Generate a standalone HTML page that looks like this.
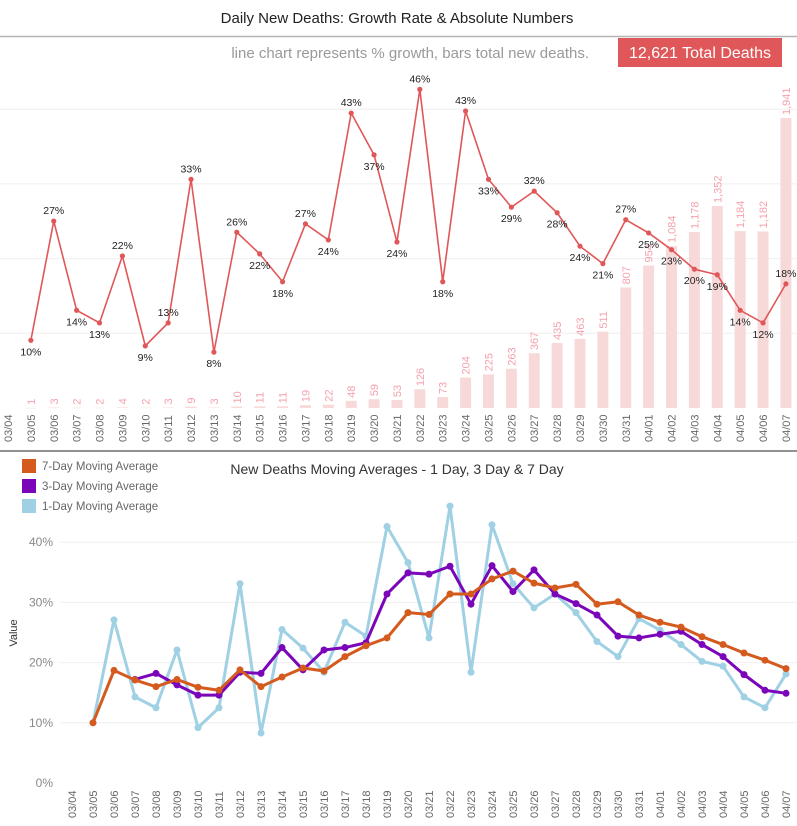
<!DOCTYPE html>
<html><head><meta charset="utf-8">
<style>
body{margin:0;background:#fff;width:797px;height:826px;overflow:hidden;font-family:"Liberation Sans",sans-serif}
svg{position:absolute;left:0;top:0}
.t{font-family:"Liberation Sans Narrow","Liberation Sans",sans-serif}
</style></head>
<body>
<svg id="c" width="797" height="826">
<text class="t" x="397" y="23" text-anchor="middle" font-size="15" fill="#222">Daily New Deaths: Growth Rate &amp; Absolute Numbers</text>
<line x1="0" y1="36.5" x2="797" y2="36.5" stroke="#b5b5b5" stroke-width="1.5"/>
<text class="t" x="589" y="58" text-anchor="end" font-size="15" fill="#999">line chart represents % growth, bars total new deaths.</text>
<rect x="618" y="38" width="164" height="29" fill="#e05759"/>
<text class="t" x="700" y="58" text-anchor="middle" font-size="16" fill="#fff">12,621 Total Deaths</text>
<line x1="0" y1="451" x2="797" y2="451" stroke="#222" stroke-width="1"/>
<text x="397" y="474" text-anchor="middle" font-size="14" fill="#333">New Deaths Moving Averages - 1 Day, 3 Day &amp; 7 Day</text>
<g id="topg"></g><g id="botg"></g>
</svg>
<script>
const dates=["03/04","03/05","03/06","03/07","03/08","03/09","03/10","03/11","03/12","03/13","03/14","03/15","03/16","03/17","03/18","03/19","03/20","03/21","03/22","03/23","03/24","03/25","03/26","03/27","03/28","03/29","03/30","03/31","04/01","04/02","04/03","04/04","04/05","04/06","04/07"];
const newDeaths=[0,1,3,2,2,4,2,3,9,3,10,11,11,19,22,48,59,53,126,73,204,225,263,367,435,463,511,807,954,1084,1178,1352,1184,1182,1941];
const growth=[null,10,27.1,14.3,12.5,22.1,9.2,12.5,33.1,8.3,25.5,22.4,18.4,26.7,24.4,42.6,36.6,24.1,46,18.4,42.9,33.1,29.1,31.4,28.3,23.5,21,27.3,25.4,23,20.2,19.4,14.3,12.5,18.1];
const growthLabels=["","10%","27%","14%","13%","22%","9%","13%","33%","8%","26%","22%","18%","27%","24%","43%","37%","24%","46%","18%","43%","33%","29%","32%","28%","24%","21%","27%","25%","23%","20%","19%","14%","12%","18%"];
const ma7=[null,10,18.7,17.1,16,17.2,15.9,15.4,18.8,16,17.6,19.1,18.6,21,22.8,24.1,28.3,28,31.4,31.4,33.9,35.2,33.2,32.4,33,29.7,30.1,27.9,26.7,25.9,24.3,23,21.6,20.4,19];
const ma3=[null,null,null,17.2,18.2,16.3,14.6,14.6,18.4,18.2,22.5,18.8,22.1,22.5,23.3,31.4,34.9,34.7,36,29.7,36.1,31.8,35.4,31.4,29.8,27.9,24.4,24.1,24.7,25.2,23,21,18,15.4,14.9];
const ma1=[null,10,27.1,14.3,12.5,22.1,9.2,12.5,33.1,8.3,25.5,22.4,18.4,26.7,24.4,42.6,36.6,24.1,46,18.4,42.9,33.1,29.1,31.4,28.3,23.5,21,27.3,25.4,23,20.2,19.4,14.3,12.5,18.1];
const barTicks=[500,1000,1500,2000];
const pctTicks=[0,10,20,30,40];
const NS="http://www.w3.org/2000/svg";
function mk(p,tag,a,txt){const e=document.createElementNS(NS,tag);for(const k in a)e.setAttribute(k,a[k]);if(txt!==undefined)e.textContent=txt;p.appendChild(e);return e;}
const topG=document.getElementById('topg'),botG=document.getElementById('botg');
const tx=i=>8+i*22.88;
const by=v=>408-v*0.1494;
const gy=p=>410-p*6.97;
barTicks.forEach(t=>{const l=mk(topG,'line',{x1:0,x2:797,y1:by(t),y2:by(t),stroke:'#efefef'});

});
newDeaths.forEach((v,i)=>{if(!v)return;const h=408-by(v);
const r=mk(topG,'rect',{x:tx(i)-5.5,y:by(v),width:11,height:Math.max(h,0.5),fill:'#f8d9da'});


const s=String(v).replace(/\B(?=(\d{3})+(?!\d))/g,',');
const t=mk(topG,'text',{transform:`translate(${tx(i)+4},${by(v)-3}) rotate(-90)`,'font-size':11,fill:'#f4a2ac'},s);

});
let d='';growth.forEach((p,i)=>{if(p==null)return;d+=(d?'L':'M')+tx(i)+','+gy(p);});
const gl=mk(topG,'path',{d:d,fill:'none',stroke:'#e05759','stroke-width':1.6});


growth.forEach((p,i)=>{if(p==null)return;
const c=mk(topG,'circle',{cx:tx(i),cy:gy(p),r:2.6,fill:'#e05759'});


const prev=growth[i-1];const above=prev==null?false:p>=prev;
const t=mk(topG,'text',{x:tx(i),y:above?gy(p)-7:gy(p)+15,'text-anchor':'middle','font-size':10.5,fill:'#222'},growthLabels[i]);

});
dates.forEach((s,i)=>{const t=mk(topG,'text',{transform:`translate(${tx(i)+4},442) rotate(-90)`,'font-size':11,fill:'#666'},s);

});
const bx=i=>72+i*21;
const my=p=>783-p*6.02;
pctTicks.forEach(t=>{if(t>0){const l=mk(botG,'line',{x1:60,x2:797,y1:my(t),y2:my(t),stroke:'#efefef'});

}
const tt=mk(botG,'text',{x:53,y:my(t)+4,'text-anchor':'end','font-size':12,fill:'#888'},t+'%');

});
const yt=mk(botG,'text',{transform:'translate(17,633) rotate(-90)','text-anchor':'middle','font-size':11,fill:'#333'},'Value');


[[ma1,'#9fd0e4','one-day'],[ma3,'#7b05b9','three-day'],[ma7,'#d45a1e','seven-day']].forEach(([arr,col,nm])=>{
let d='';arr.forEach((p,i)=>{if(p==null)return;d+=(d?'L':'M')+bx(i)+','+my(p);});
const pl=mk(botG,'path',{d:d,fill:'none',stroke:col,'stroke-width':3,'stroke-linejoin':'round'});


arr.forEach((p,i)=>{if(p==null)return;const c=mk(botG,'circle',{cx:bx(i),cy:my(p),r:3.5,fill:col});

});});
dates.forEach((s,i)=>{const t=mk(botG,'text',{transform:`translate(${bx(i)+4},818) rotate(-90)`,'font-size':11,fill:'#666'},s);

});
[['7-Day Moving Average','#d45a1e',466],['3-Day Moving Average','#7b05b9',486],['1-Day Moving Average','#9fd0e4',506]].forEach(([lab,col,y])=>{
const r=mk(botG,'rect',{x:22,y:y-7,width:14,height:14,fill:col});


const t=mk(botG,'text',{x:42,y:y+4,'font-size':11.5,fill:'#666'},lab);

});
</script>
</body></html>
